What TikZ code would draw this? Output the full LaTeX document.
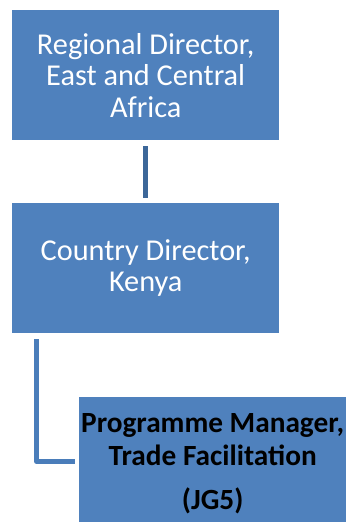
\documentclass[tikz,border=0pt]{standalone}
\usepackage{fontspec}
\setmainfont{Carlito}
\usetikzlibrary{calc}
\definecolor{boxblue}{HTML}{4F81BD}
\definecolor{connA}{HTML}{3C6799}
\definecolor{connB}{HTML}{4A7DBA}
\begin{document}
\begin{tikzpicture}[x=1pt,y=-1pt,
  box/.style={draw=none, fill=boxblue, minimum width=267pt, inner sep=0pt,
    align=center, text=white, anchor=north west,
    font=\fontsize{30.3}{31.5}\selectfont},
  pmbox/.style={box, text=black, font=\fontsize{29.3}{32.5}\selectfont\bfseries},
  conn/.style={line width=5pt, line cap=butt, line join=round}]
\useasboundingbox (0,0) rectangle (346,522);
\fill[white] (0,0) rectangle (346,522);
\node[box, minimum height=130pt] (rd) at (12,10) {Regional Director,\\East and Central\\Africa};
\node[box, minimum height=130pt] (cd) at (12,203) {Country Director,\\Kenya};
\node[pmbox, minimum height=134pt] (pm) at (79,397) {Programme Manager,\\Trade Facilitation\\[12pt](JG5)};
\draw[conn, connA] ($(rd.south)+(0,6)$) -- ($(cd.north)+(0,-5)$);
\coordinate (cdleg) at ($(cd.south west)+(24.5,6)$);
\coordinate (pmend) at ($(pm.west)+(-4,-3)$);
\draw[conn, connB] (cdleg) |- (pmend);
\end{tikzpicture}
\end{document}
